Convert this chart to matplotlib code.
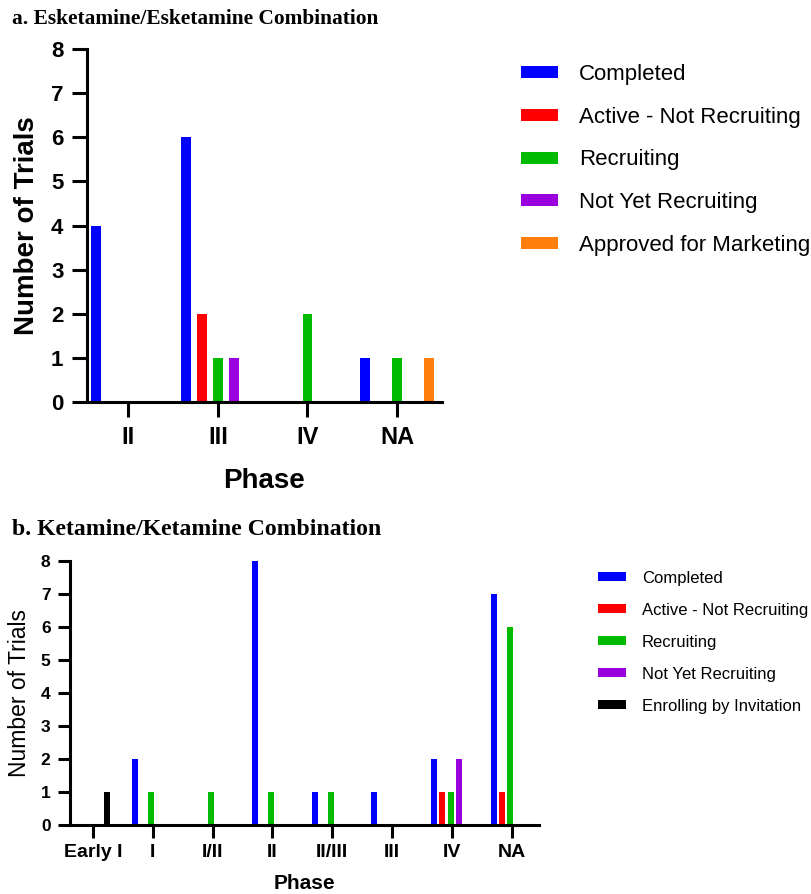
import numpy as np
from matplotlib import pyplot as plt

# panel a: esketamine
phases_a = ['II', 'III', 'IV', 'NA']
completed_a = [4, 6, 0, 1]
active_a = [0, 2, 0, 0]
recruiting_a = [0, 1, 2, 1]
not_yet_a = [0, 1, 0, 0]
approved_a = [0, 0, 0, 1]

# panel b: ketamine
phases_b = ['Early I', 'I', 'I/II', 'II', 'II/III', 'III', 'IV', 'NA']
completed_b = [0, 2, 0, 8, 1, 1, 2, 7]
active_b = [0, 0, 0, 0, 0, 0, 1, 1]
recruiting_b = [0, 1, 1, 1, 1, 0, 1, 6]
not_yet_b = [0, 0, 0, 0, 0, 0, 2, 0]
enrolling_b = [1, 0, 0, 0, 0, 0, 0, 0]

labels_a = ['Completed', 'Active - Not Recruiting', 'Recruiting', 'Not Yet Recruiting', 'Approved for Marketing']
labels_b = ['Completed', 'Active - Not Recruiting', 'Recruiting', 'Not Yet Recruiting', 'Enrolling by Invitation']
colors_a = ['#0000ff', '#ff0000', '#00bb00', '#9900dd', '#ff7f0e']
colors_b = ['#0000ff', '#ff0000', '#00bb00', '#9900dd', '#000000']

plt.rcParams['font.family'] = ['Liberation Sans', 'DejaVu Sans']

fig = plt.figure(figsize=(8.12, 8.94), dpi=100)

# ---- panel a
ax1 = fig.add_axes([0.1071, 0.5503, 0.4372, 0.3949])
x = np.arange(len(phases_a))
slot = 0.178
for k, (vals, lab, col) in enumerate(zip([completed_a, active_a, recruiting_a, not_yet_a, approved_a], labels_a, colors_a)):
    ax1.bar(x + (k - 2) * slot, vals, width=0.11, color=col, label=lab)
ax1.set_xlim(-0.46, 3.5)
ax1.set_ylim(0, 8)
ax1.set_xticks(x)
ax1.set_xticklabels(phases_a, fontsize=17, fontweight='bold')
ax1.set_yticks(range(9))
ax1.set_yticklabels([str(i) for i in range(9)], fontsize=16, fontweight='bold')
ax1.tick_params(length=11, width=2.2, pad=6)
for s in ['top', 'right']:
    ax1.spines[s].set_visible(False)
for s in ['left', 'bottom']:
    ax1.spines[s].set_linewidth(2.2)
ax1.set_xlabel('Phase', fontsize=20, fontweight='bold', labelpad=14)
ax1.set_ylabel('Number of Trials', fontsize=20, fontweight='bold', labelpad=8)
h1, l1 = ax1.get_legend_handles_labels()
fig.legend(h1, l1, loc='upper left', bbox_to_anchor=(0.6416, 0.928), frameon=False,
           fontsize=16, handlelength=1.67, handleheight=0.45, handletextpad=0.95,
           labelspacing=0.97, borderpad=0, borderaxespad=0)

# ---- panel b
ax2 = fig.add_axes([0.0862, 0.0772, 0.5776, 0.2953])
x = np.arange(len(phases_b))
slot = 0.135
for k, (vals, lab, col) in enumerate(zip([completed_b, active_b, recruiting_b, not_yet_b, enrolling_b], labels_b, colors_b)):
    ax2.bar(x + (k - 2.2) * slot, vals, width=0.1, color=col, label=lab)
ax2.set_xlim(-0.38, 7.45)
ax2.set_ylim(0, 8)
ax2.set_xticks(x)
ax2.set_xticklabels(phases_b, fontsize=14, fontweight='bold')
ax2.set_yticks(range(9))
ax2.set_yticklabels([str(i) for i in range(9)], fontsize=12.5, fontweight='bold')
ax2.tick_params(length=9, width=2.2, pad=5)
for s in ['top', 'right']:
    ax2.spines[s].set_visible(False)
for s in ['left', 'bottom']:
    ax2.spines[s].set_linewidth(2.2)
ax2.set_xlabel('Phase', fontsize=15, fontweight='bold', labelpad=9)
ax2.set_ylabel('Number of Trials', fontsize=16.5, labelpad=7)
h2, l2 = ax2.get_legend_handles_labels()
fig.legend(h2, l2, loc='upper left', bbox_to_anchor=(0.7365, 0.3615), frameon=False,
           fontsize=12, handlelength=1.68, handleheight=0.45, handletextpad=0.96,
           labelspacing=1.02, borderpad=0, borderaxespad=0)

# panel titles
fig.text(0.015, 0.979, 'a. Esketamine/Esketamine Combination', fontsize=15.4, fontweight='bold',
         family='Liberation Serif', va='center')
fig.text(0.015, 0.408, 'b. Ketamine/Ketamine Combination', fontsize=17.1, fontweight='bold',
         family='Liberation Serif', va='center')

fig.savefig('out.png', dpi=100)
